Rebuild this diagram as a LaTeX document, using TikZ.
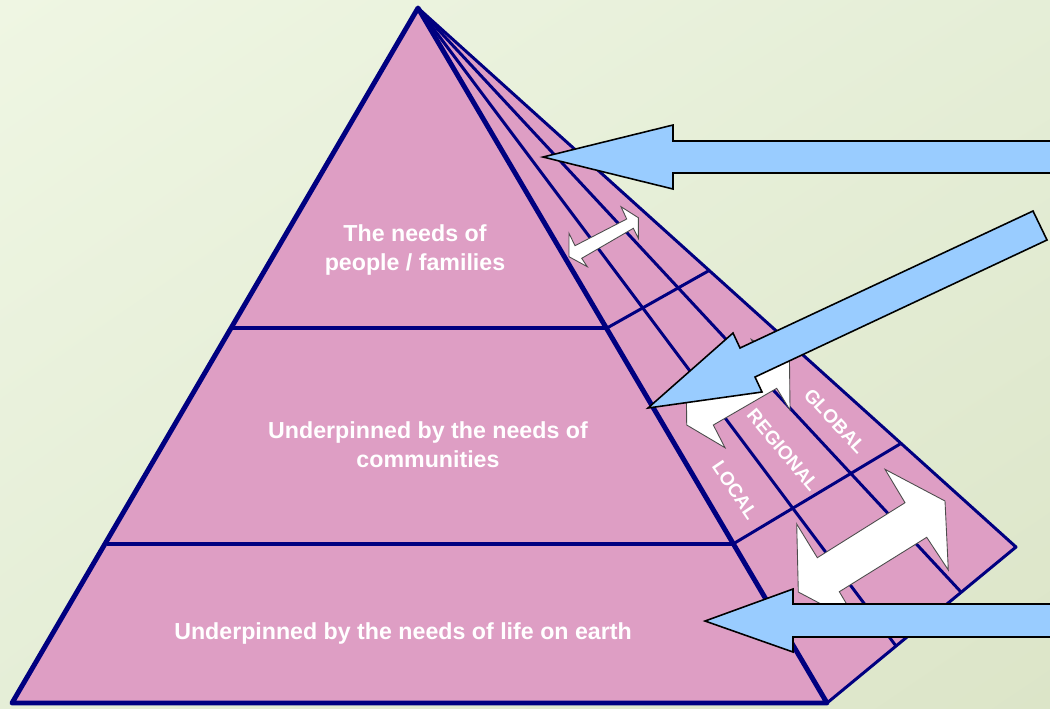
\documentclass[tikz,border=0pt]{standalone}
\usepackage{fontspec}
\setmainfont{Liberation Sans}
\usetikzlibrary{shadings}
\definecolor{pyrpink}{RGB}{222,158,196}
\definecolor{pyrnavy}{RGB}{0,0,128}
\definecolor{arrowblue}{RGB}{153,204,255}
\definecolor{bgtop}{RGB}{239,246,227}
\definecolor{bgmid}{RGB}{229,238,215}
\definecolor{bgbottom}{RGB}{220,229,200}
\tikzset{
    face/.style={fill=pyrpink, draw=none},
    pyredge/.style={draw=pyrnavy, line width=2.8pt, line join=round, line cap=round},
    divline/.style={draw=pyrnavy, line width=2.3pt},
    sideline/.style={draw=pyrnavy, line width=1.7pt, line join=round},
    bigarrow/.style={fill=arrowblue, draw=black, line width=0.9pt, line join=miter},
    twoway/.style={fill=white, draw=black!70, line width=0.5pt, line join=miter},
    needs/.style={text=white, font=\bfseries\fontsize{13.2}{16.5}\selectfont, align=center},
    reach/.style={text=white, inner sep=0pt, font=\bfseries\fontsize{10.8}{13}\selectfont}
}

\begin{document}
\begin{tikzpicture}[x=0.02cm, y=-0.02cm]

% Canvas
\clip (0,0) rectangle (1050,708);
\shade[upper left=bgtop, lower right=bgbottom, upper right=bgmid, lower left=bgmid] (0,0) rectangle (1050,708);

% Pyramid corners
\coordinate (apex) at (418,8);
\coordinate (baseleft) at (12,703);
\coordinate (baseright) at (827,703);
\coordinate (sideright) at (1016,547);

% Levels on the front face
\coordinate (famleft) at (232,328);
\coordinate (famright) at (607,328);
\coordinate (comleft) at (107,544);
\coordinate (comright) at (733,544);

% Levels and columns on the side face
\coordinate (famside) at (710,270);
\coordinate (comside) at (900,444);
\coordinate (localend) at (896,646);
\coordinate (regionend) at (961,592);

% Faces
\fill[face] (apex) -- (baseright) -- (sideright) -- cycle;
\fill[face] (apex) -- (baseleft) -- (baseright) -- cycle;

% Side face grid
\draw[sideline] (apex) -- (localend);
\draw[sideline] (apex) -- (regionend);
\draw[sideline] (famright) -- (famside);
\draw[sideline] (comright) -- (comside);
\draw[sideline] (baseright) -- (sideright) -- (apex);

% Front face
\draw[divline] (famleft) -- (famright);
\draw[divline] (comleft) -- (comright);
\draw[pyredge] (baseright) -- (apex) -- (baseleft) -- cycle;

% Level texts
\node[needs] (people) at (415,250) {The needs of\\people / families};
\node[needs] (communities) at (428,445) {Underpinned by the needs of\\communities};
\node[needs] (earth) at (403,633) {Underpinned by the needs of life on earth};

% Scale texts
\node[reach, rotate=-56] (local) at (735,490) {LOCAL};
\node[reach, rotate=-50] (regional) at (783,450) {REGIONAL};
\node[reach, rotate=-47] (global) at (835,421) {GLOBAL};

% Two-way arrows and incoming arrows
\draw[twoway] (569,233.3) -- (575,245.7) -- (626.7,219) -- (621,206.7) -- (638.3,217.7) -- (638.3,238.3) -- (633.3,228.3) -- (581.7,258.3) -- (587.3,266.7) -- (569,256.7) -- cycle;
\draw[bigarrow] (543,157) -- (673,125) -- (673,141) -- (1060,141) -- (1060,173) -- (673,173) -- (673,189) -- cycle;

\draw[twoway] (686.2,377) -- (699.5,398.7) -- (762.9,362) -- (751.2,339.3) -- (789.5,362) -- (790,410) -- (776.7,388.3) -- (713.3,425) -- (725,447.7) -- (686.7,425) -- cycle;
\draw[bigarrow] (648,408) -- (733,333) -- (740,348) -- (1033,211) -- (1047,240) -- (755,377) -- (762,392) -- cycle;

\draw[twoway] (796.7,524) -- (817.3,557.7) -- (905,502.7) -- (885,469.3) -- (945,501) -- (948.3,570) -- (926.7,537.3) -- (839.3,591.7) -- (858.3,623.7) -- (798.3,592) -- cycle;
\draw[bigarrow] (705,621) -- (793,589) -- (793,604) -- (1060,604) -- (1060,637) -- (793,637) -- (793,652) -- cycle;

\end{tikzpicture}
\end{document}
